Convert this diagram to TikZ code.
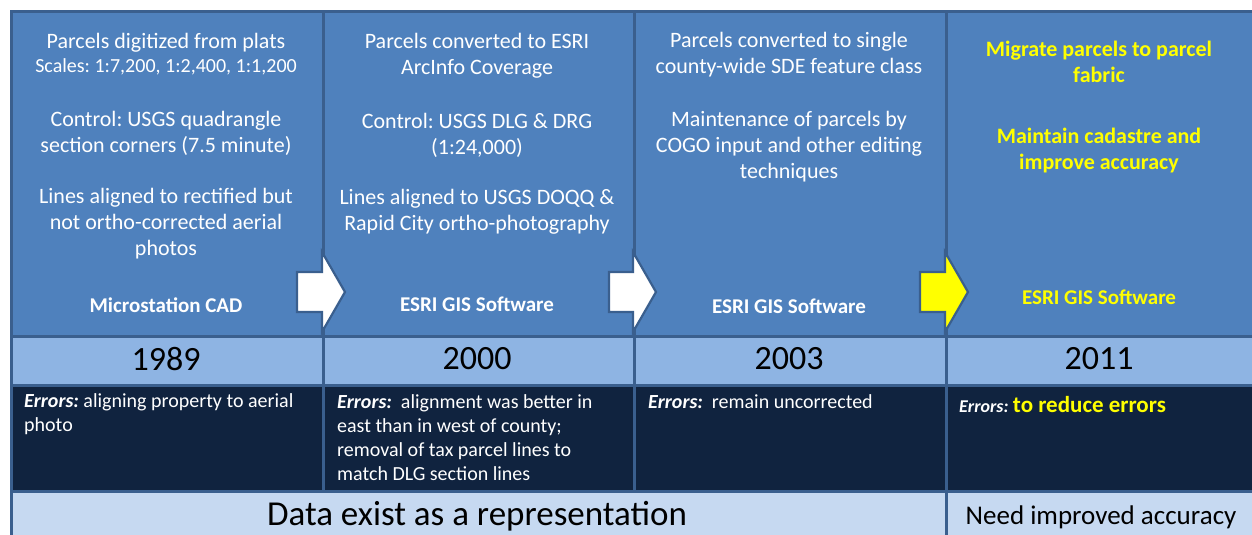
\documentclass[tikz,border=0pt]{standalone}
\usepackage{fontspec}
\setmainfont{Carlito}
\definecolor{topblue}{HTML}{4F81BD}
\definecolor{yearblue}{HTML}{8EB4E3}
\definecolor{darknavy}{HTML}{10233F}
\definecolor{paleblue}{HTML}{C6D9F1}
\definecolor{edgeblue}{HTML}{3A5F8E}
\definecolor{hiyellow}{HTML}{FFFF00}
\begin{document}
\frenchspacing
\begin{tikzpicture}[x=1pt,y=-1pt,
  cell/.style={draw=edgeblue,line width=2.6pt,anchor=north west,inner sep=0pt},
  toptext/.style={text=white,align=center,inner sep=0pt,font=\fontsize{22}{26}\selectfont},
  softtext/.style={text=white,align=center,inner sep=0pt,font=\bfseries\fontsize{21}{25}\selectfont},
  yeartext/.style={text=black,inner sep=0pt,font=\fontsize{34}{40}\selectfont},
  errtext/.style={text=white,align=left,anchor=west,inner sep=0pt,font=\fontsize{20}{24}\selectfont},
  blockarrow/.style={draw=edgeblue,line width=2.2pt,line join=miter}
]
\useasboundingbox (0,0) rectangle (1252,535);
\clip (0,0) rectangle (1252,535);
\fill[white] (0,0) rectangle (1252,535);
% top band
\node[cell,fill=topblue,minimum width=312pt,minimum height=325pt] (t1) at (10,10) {};
\node[cell,fill=topblue,minimum width=311pt,minimum height=325pt] (t2) at (322,10) {};
\node[cell,fill=topblue,minimum width=312pt,minimum height=325pt] (t3) at (633,10) {};
\node[cell,fill=topblue,minimum width=320pt,minimum height=325pt] (t4) at (945,10) {};
% year band
\node[cell,fill=yearblue,minimum width=312pt,minimum height=49pt] (y1) at (10,335) {};
\node[cell,fill=yearblue,minimum width=311pt,minimum height=49pt] (y2) at (322,335) {};
\node[cell,fill=yearblue,minimum width=312pt,minimum height=49pt] (y3) at (633,335) {};
\node[cell,fill=yearblue,minimum width=320pt,minimum height=49pt] (y4) at (945,335) {};
% errors band
\node[cell,fill=darknavy,minimum width=312pt,minimum height=106pt] (e1) at (10,384) {};
\node[cell,fill=darknavy,minimum width=311pt,minimum height=106pt] (e2) at (322,384) {};
\node[cell,fill=darknavy,minimum width=312pt,minimum height=106pt] (e3) at (633,384) {};
\node[cell,fill=darknavy,minimum width=320pt,minimum height=106pt] (e4) at (945,384) {};
% bottom band
\node[cell,fill=paleblue,minimum width=935pt,minimum height=60pt] (b1) at (10,490) {};
\node[cell,fill=paleblue,minimum width=320pt,minimum height=60pt] (b2) at (945,490) {};

% block arrows
\filldraw[blockarrow,fill=white] (297,272) -- (322,272) -- (322,252) -- (345,292) -- (322,332) -- (322,312) -- (297,312) -- cycle;
\filldraw[blockarrow,fill=white] (609,272) -- (633,272) -- (633,252) -- (656,292) -- (633,332) -- (633,312) -- (609,312) -- cycle;
\filldraw[blockarrow,fill=hiyellow] (920,272) -- (945,272) -- (945,252) -- (968,292) -- (945,332) -- (945,312) -- (920,312) -- cycle;

% column 1
\node[toptext] (c1a) at (166,43) {Parcels digitized from plats};
\node[toptext,font=\fontsize{20}{24}\selectfont] (c1b) at (166,67) {Scales: 1:7,200, 1:2,400, 1:1,200};
\node[toptext] (c1c) at (166,133) {Control: USGS quadrangle\\section corners (7.5 minute)};
\node[toptext] (c1d) at (166,224) {Lines aligned to rectified but\\not ortho-corrected aerial\\photos};
\node[softtext] (c1e) at (166,305) {Microstation CAD};
% column 2
\node[toptext] (c2a) at (477,56) {Parcels converted to ESRI\\ArcInfo Coverage};
\node[toptext] (c2b) at (477,135) {Control: USGS DLG \& DRG\\(1:24,000)};
\node[toptext] (c2c) at (477,212) {Lines aligned to USGS DOQQ \&\\Rapid City ortho-photography};
\node[softtext] (c2d) at (477,304) {ESRI GIS Software};
% column 3
\node[toptext] (c3a) at (789,55) {Parcels converted to single\\county-wide SDE feature class};
\node[toptext] (c3b) at (789,147) {Maintenance of parcels by\\COGO input and other editing\\techniques};
\node[softtext] (c3c) at (789,306) {ESRI GIS Software};
% column 4
\node[toptext,text=hiyellow,font=\bfseries\fontsize{22}{26}\selectfont] (c4a) at (1099,62) {Migrate parcels to parcel\\fabric};
\node[toptext,text=hiyellow,font=\bfseries\fontsize{22}{26}\selectfont] (c4b) at (1099,151) {Maintain cadastre and\\improve accuracy};
\node[softtext,text=hiyellow] (c4c) at (1099,297) {ESRI GIS Software};

% years
\node[yeartext] (yr1) at (166,359) {1989};
\node[yeartext] (yr2) at (477,359) {2000};
\node[yeartext] (yr3) at (789,359) {2003};
\node[yeartext] (yr4) at (1099,359) {2011};

% errors
\node[errtext] (er1) at (24,414) {\textbf{\textit{Errors:}} aligning property to aerial\\photo};
\node[errtext] (er2) at (337,438) {\textbf{\textit{Errors:}}\ \ alignment was better in\\east than in west of county;\\removal of tax parcel lines to\\match DLG section lines};
\node[errtext] (er3) at (648,402) {\textbf{\textit{Errors:}}\ \ remain uncorrected};
\node[errtext] (er4) at (959,405) {{\fontsize{18}{22}\selectfont\textbf{\textit{Errors:}}}\ \textcolor{hiyellow}{\bfseries\fontsize{23}{26}\selectfont to reduce errors}};

% bottom
\node[yeartext,font=\fontsize{35}{40}\selectfont] (bt1) at (477,516) {Data exist as a representation};
\node[yeartext,font=\fontsize{27}{32}\selectfont] (bt2) at (1101,517) {Need improved accuracy};
\end{tikzpicture}
\end{document}
